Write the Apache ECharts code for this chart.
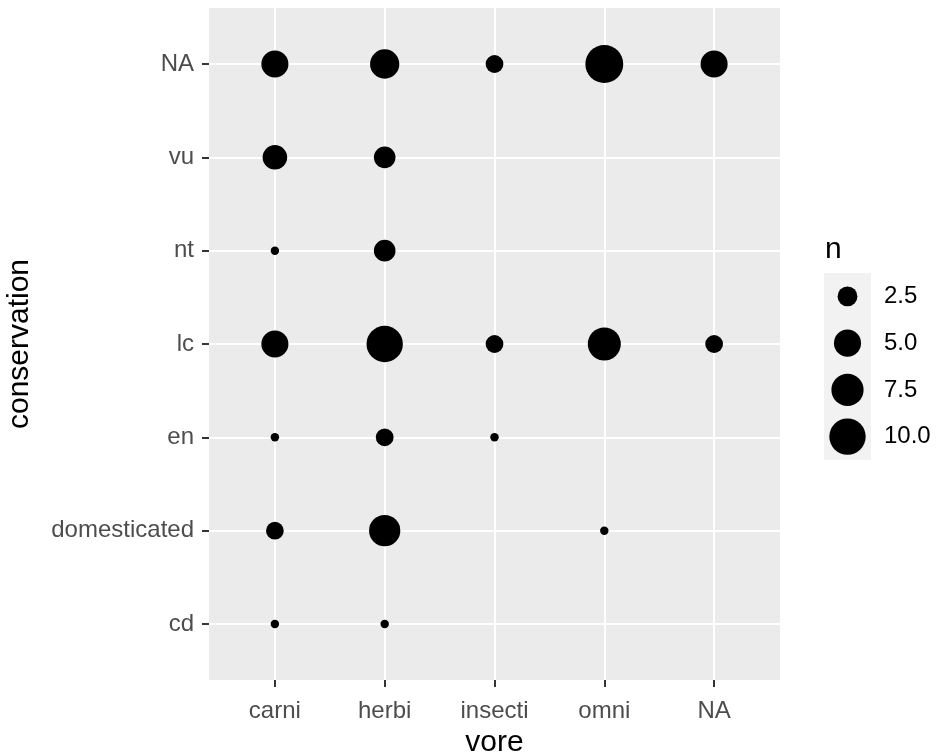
<!DOCTYPE html>
<html>
<head>
<meta charset="utf-8">
<script src="https://cdn.jsdelivr.net/npm/echarts@6/dist/echarts.min.js"></script>
<style>
  html, body { margin: 0; padding: 0; background: #fff; }
  #chart { width: 937px; height: 755px; }
</style>
</head>
<body>
<div id="chart"></div>
<script>
// Diet type (x) and conservation status (y) categories
const voreCats = ['carni', 'herbi', 'insecti', 'omni', 'NA'];
const consCats = ['cd', 'domesticated', 'en', 'lc', 'nt', 'vu', 'NA'];

// Number of mammals per conservation status, one array per diet (null = none)
const carniCounts   = [1, 2, 1, 5, 1, 4, 5];
const herbiCounts   = [1, 7, 2, 10, 3, 3, 6];
const insectiCounts = [null, null, 1, 2, null, null, 2];
const omniCounts    = [null, 1, null, 8, null, null, 11];
const naVoreCounts  = [null, null, null, 2, null, null, 5];

// Size legend breaks
const sizeBreaks = [2.5, 5.0, 7.5, 10.0];

const countsByVore = [carniCounts, herbiCounts, insectiCounts, omniCounts, naVoreCounts];

const points = [];
countsByVore.forEach((arr, xi) => {
  arr.forEach((n, yi) => {
    if (n != null) points.push([xi, yi, n]);
  });
});

const allCounts = points.map(p => p[2]);
const nMin = Math.min(...allCounts);
const nMax = Math.max(...allCounts);

// Area-proportional size scale (range 1..6 mm), converted to pixel diameter
function dotSize(n) {
  const t = Math.max(0, (n - nMin) / (nMax - nMin));
  const mm = 1 + 5 * Math.sqrt(t);
  return 2.07 * (2.845 * mm + 0.945) + 0.6;
}

// Discrete positions, padded by 0.6 of a step on each side of the panel
const xIdx = voreCats.map((c, i) => i);
const yIdx = consCats.map((c, i) => i);
const PAD = 0.6;

const FONT = 'Liberation Sans, Arial, sans-serif';
const tickStyle = { color: '#333333', width: 2 };
const hiddenLine = { show: true, onZero: false, lineStyle: { color: 'rgba(0,0,0,0)', width: 0 } };

const chart = echarts.init(document.getElementById('chart'), null, { renderer: 'canvas' });

chart.setOption({
  backgroundColor: '#ffffff',
  animation: false,
  graphic: [
    {
      type: 'text',
      silent: true,
      left: 825,
      top: 235,
      style: { text: 'n', font: '30px ' + FONT, fill: '#000000' }
    }
  ],
  grid: [
    { left: 209, top: 8, width: 571, height: 672, outerBoundsMode: 'none',
      show: true, backgroundColor: '#EBEBEB', borderWidth: 0 },
    { left: 824, top: 273, width: 47, height: 187, outerBoundsMode: 'none',
      show: true, backgroundColor: '#F2F2F2', borderWidth: 0 }
  ],
  xAxis: [
    {
      type: 'value',
      gridIndex: 0,
      position: 'bottom',
      min: -PAD,
      max: voreCats.length - 1 + PAD,
      name: 'vore',
      nameLocation: 'middle',
      nameGap: 43,
      nameTextStyle: { color: '#000000', fontSize: 30, fontFamily: FONT },
      axisLine: hiddenLine,
      axisTick: { show: true, customValues: xIdx, length: 7, lineStyle: tickStyle },
      axisLabel: { customValues: xIdx, margin: 19, color: '#4D4D4D', fontSize: 24,
                   fontFamily: FONT, formatter: v => voreCats[Math.round(v)] },
      splitLine: { show: false }
    },
    {
      type: 'category',
      gridIndex: 1,
      data: ['key'],
      show: false
    }
  ],
  yAxis: [
    {
      type: 'value',
      gridIndex: 0,
      position: 'left',
      min: -PAD,
      max: consCats.length - 1 + PAD,
      name: 'conservation',
      nameLocation: 'middle',
      nameRotate: 90,
      nameGap: 174,
      nameTextStyle: { color: '#000000', fontSize: 30, fontFamily: FONT },
      axisLine: hiddenLine,
      axisTick: { show: true, customValues: yIdx, length: 7, lineStyle: tickStyle },
      axisLabel: { customValues: yIdx, margin: 15, color: '#4D4D4D', fontSize: 24,
                   fontFamily: FONT, formatter: v => consCats[Math.round(v)] },
      splitLine: { show: false }
    },
    {
      type: 'category',
      gridIndex: 1,
      data: sizeBreaks.map(v => v.toFixed(1)),
      inverse: true,
      position: 'right',
      axisLine: { show: false },
      axisTick: { show: false },
      splitLine: { show: false },
      axisLabel: { interval: 0, margin: 13, color: '#000000', fontSize: 24, fontFamily: FONT }
    }
  ],
  series: [
    {
      // white major grid lines at each category position, spanning the panel
      type: 'scatter',
      xAxisIndex: 0,
      yAxisIndex: 0,
      data: points,
      symbolSize: 0,
      silent: true,
      itemStyle: { opacity: 0 },
      z: 1,
      markLine: {
        silent: true,
        symbol: ['none', 'none'],
        label: { show: false },
        lineStyle: { color: '#ffffff', width: 2, type: 'solid' },
        emphasis: { disabled: true },
        data: xIdx.map(i => ({ xAxis: i })).concat(yIdx.map(i => ({ yAxis: i })))
      }
    },
    {
      type: 'scatter',
      xAxisIndex: 0,
      yAxisIndex: 0,
      data: points,
      symbol: 'circle',
      symbolSize: v => dotSize(v[2]),
      itemStyle: { color: '#000000', opacity: 1 },
      z: 5
    },
    {
      type: 'scatter',
      xAxisIndex: 1,
      yAxisIndex: 1,
      data: sizeBreaks.map((v, i) => [0, i, v]),
      symbol: 'circle',
      symbolSize: v => dotSize(v[2]),
      itemStyle: { color: '#000000', opacity: 1 },
      z: 5
    }
  ]
});
</script>
</body>
</html>
